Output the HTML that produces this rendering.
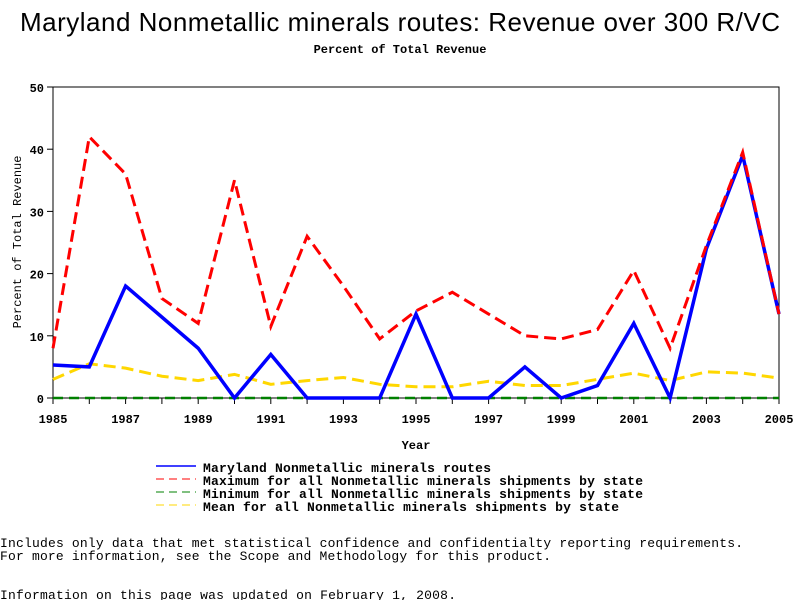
<!DOCTYPE html>
<html><head><meta charset="utf-8"><style>
body{margin:0;background:#fff;width:800px;height:600px;overflow:hidden}
svg text{font-family:"Liberation Mono",monospace}
</style></head><body>
<svg id="chart" width="800" height="600" xmlns="http://www.w3.org/2000/svg">
<text x="20" y="31" textLength="760" lengthAdjust="spacing" style="font-family:'Liberation Sans',sans-serif" font-size="26">Maryland Nonmetallic minerals routes: Revenue over 300 R/VC</text>
<text x="400" y="53" text-anchor="middle" font-size="12" font-weight="bold">Percent of Total Revenue</text>
<rect x="53" y="87" width="726" height="311" fill="none" stroke="#000"/>
<g id="axes"></g>
<g id="series"></g>
<text x="416" y="449" text-anchor="middle" font-size="12" font-weight="bold">Year</text>
<text transform="translate(21,242) rotate(-90)" text-anchor="middle" font-size="12">Percent of Total Revenue</text>
<g font-size="13" font-weight="bold">
<line x1="156" y1="466" x2="196" y2="466" stroke="#0000ff" stroke-width="1.5"/>
<text x="203" y="472" textLength="288" lengthAdjust="spacing">Maryland Nonmetallic minerals routes</text>
<line x1="156" y1="479" x2="196" y2="479" stroke="#ff0000" stroke-dasharray="8,5"/>
<text x="203" y="485" textLength="440" lengthAdjust="spacing">Maximum for all Nonmetallic minerals shipments by state</text>
<line x1="156" y1="492" x2="196" y2="492" stroke="#008000" stroke-dasharray="8,5"/>
<text x="203" y="498" textLength="440" lengthAdjust="spacing">Minimum for all Nonmetallic minerals shipments by state</text>
<line x1="156" y1="505" x2="196" y2="505" stroke="#ffd700" stroke-dasharray="8,5"/>
<text x="203" y="511" textLength="416" lengthAdjust="spacing">Mean for all Nonmetallic minerals shipments by state</text>
</g>
<g font-size="13">
<text x="0" y="547" textLength="743" lengthAdjust="spacing">Includes only data that met statistical confidence and confidentialty reporting requirements.</text>
<text x="0" y="560" textLength="551" lengthAdjust="spacing">For more information, see the Scope and Methodology for this product.</text>
<text x="0" y="599" textLength="456" lengthAdjust="spacing">Information on this page was updated on February 1, 2008.</text>
</g>
</svg>
<script>
const years=[1985,1986,1987,1988,1989,1990,1991,1992,1993,1994,1995,1996,1997,1998,1999,2000,2001,2002,2003,2004,2005];
const marylandValues=[5.3,5,18,13,8,0,7,0,0,0,13.5,0,0,5,0,2,12,0,24,39,13.5];
const maxValues=[8,42,36,16,12,35,11.5,26,18,9.5,14,17,13.5,10,9.5,11,20.5,8,24.5,39.5,13.5];
const minValues=[0,0,0,0,0,0,0,0,0,0,0,0,0,0,0,0,0,0,0,0,0];
const meanValues=[3,5.5,4.8,3.5,2.8,3.8,2.2,2.8,3.3,2.2,1.8,1.8,2.7,2,2,3,4,2.8,4.2,4,3.2];
const yTicks=[0,10,20,30,40,50];
const xTickLabels=[1985,1987,1989,1991,1993,1995,1997,1999,2001,2003,2005];
const NS="http://www.w3.org/2000/svg";
const X=y=>53+(y-1985)*(726/20);
const Y=v=>398-v*311/50;
function mk(tag,attrs,parent){const e=document.createElementNS(NS,tag);for(const k in attrs)e.setAttribute(k,attrs[k]);parent.appendChild(e);return e;}
const ax=document.getElementById('axes');
yTicks.forEach(v=>{
 const l=mk('line',{x1:47,x2:53,y1:Y(v),y2:Y(v),stroke:'#000'},ax);
 
 
 const t=mk('text',{x:44,y:Y(v)+5,'text-anchor':'end','font-size':12,'font-weight':'bold'},ax);
 t.textContent=v;
 
 
});
years.forEach(y=>{
 const l=mk('line',{x1:X(y),x2:X(y),y1:398,y2:404,stroke:'#000'},ax);
 
 
});
xTickLabels.forEach(y=>{
 const t=mk('text',{x:X(y),y:423,'text-anchor':'middle','font-size':12,'font-weight':'bold'},ax);
 t.textContent=y;
 
 
});
const sg=document.getElementById('series');
function line(vals,color,dash,w,name){
 const p=mk('polyline',{points:vals.map((v,i)=>X(years[i])+','+Y(v)).join(' '),fill:'none',stroke:color,'stroke-width':w},sg);
 if(dash)p.setAttribute('stroke-dasharray',dash);
 
 
}
line(minValues,'#008000','10,6',2.5,'min-series-line');
line(meanValues,'#ffd700','12,6',3,'mean-series-line');
line(marylandValues,'#0000ff',null,3.5,'maryland-series-line');
line(maxValues,'#ff0000','12,6',3,'max-series-line');
</script>
</body></html>
